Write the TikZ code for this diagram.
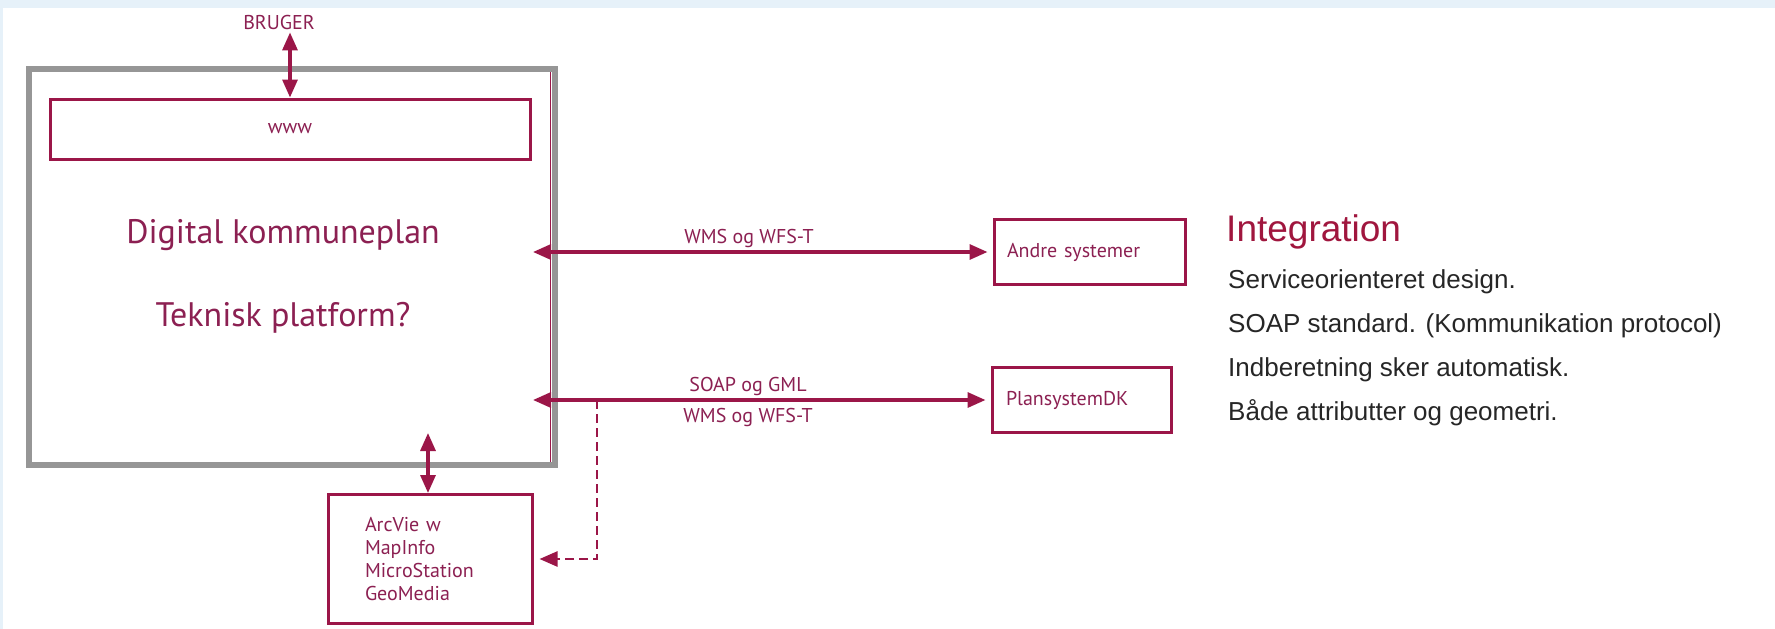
\documentclass[tikz,border=0pt]{standalone}
\usepackage{fontspec}
\setmainfont{PT Sans}
\newfontfamily\arialfont{Liberation Sans}
\usetikzlibrary{shapes,positioning,arrows.meta}
\definecolor{plan}{RGB}{155,22,72}
\definecolor{plantext}{RGB}{140,32,82}
\definecolor{integ}{RGB}{160,22,62}
\definecolor{frame}{RGB}{150,150,150}
\definecolor{bgblue}{RGB}{230,241,249}
\tikzset{sys/.style={rectangle,draw=plan,line width=3pt,text=plantext,inner sep=0pt,font=\fontsize{20}{23}\selectfont}}
\tikzset{lbl/.style={text=plantext,inner sep=3pt,font=\fontsize{20}{23}\selectfont}}
\tikzset{conn/.style={plan,line width=3.2pt}}
\tikzset{point/.style={anchor=west,inner sep=0pt,text=black!85,font=\arialfont\fontsize{26}{30}\selectfont}}

\begin{document}
\begin{tikzpicture}[x=1pt,y=-1pt,>={Triangle[length=18pt,width=15pt]}]
    \fill[bgblue] (0,0) rectangle (1775,629);
    \fill[white] (3,8) rectangle (1775,629);

    \node[draw=frame,line width=6pt,minimum width=526pt,minimum height=396pt] (platform) at (292,267) {};
    \draw[plan,line width=1.2pt] ([shift={(-7.5,6)}]platform.north east) -- ([shift={(-7.5,-6)}]platform.south east);

    \node[sys,minimum width=480pt,minimum height=60pt] (www) at (290,129) {www};
    \node[lbl] (bruger) at (279,22) {BRUGER};
    \node[lbl,font=\fontsize{34}{40}\selectfont] (dk) at (283,235) {Digital kommuneplan};
    \node[lbl,font=\fontsize{34}{40}\selectfont] (tp) at (283,318) {Teknisk platform?};

    \node[sys,minimum height=65pt,text width=165pt,inner xsep=13pt,align=left] (andre) at (1089.5,252) {Andre systemer};
    \node[sys,minimum height=65pt,text width=151pt,inner xsep=14pt,align=left] (plansys) at (1081.5,400) {PlansystemDK};
    \node[sys,minimum height=129pt,text width=130pt,inner xsep=37pt,align=left] (tools) at (430,559) {ArcVie w\\MapInfo\\MicroStation\\GeoMedia};

    \coordinate (wfsend) at (533,252);
    \coordinate (soapend) at (533,400);
    \coordinate (dashstart) at (597,400);
    \coordinate (toolsend) at (428,433);

    \draw[conn,<->] (www.north |- bruger.south) -- (www.north);
    \draw[conn,<->,shorten >=5pt] (wfsend) -- node[lbl,above,pos=.47] {WMS og WFS-T} (andre.west);
    \draw[conn,<->,shorten >=5pt] (soapend) -- node[lbl,above,pos=.47] {SOAP og GML} node[lbl,below=4pt,pos=.47] {WMS og WFS-T} (plansys.west);
    \draw[conn,<->] (toolsend) -- (toolsend |- tools.north);
    \draw[conn,->,line width=2.5pt,dash pattern=on 9pt off 5pt,shorten >=6pt] (dashstart) |- (tools.east);

    \node[anchor=west,inner sep=0pt,text=integ,font=\arialfont\fontsize{37}{44}\selectfont] (integ) at (1226,232) {Integration};
    \node[point] (p1) at (1228,282) {Serviceorienteret design.};
    \node[point] (p2) at (1228,326) {SOAP standard. (Kommunikation protocol)};
    \node[point] (p3) at (1228,370) {Indberetning sker automatisk.};
    \node[point] (p4) at (1228,413) {Både attributter og geometri.};
\end{tikzpicture}
\end{document}
